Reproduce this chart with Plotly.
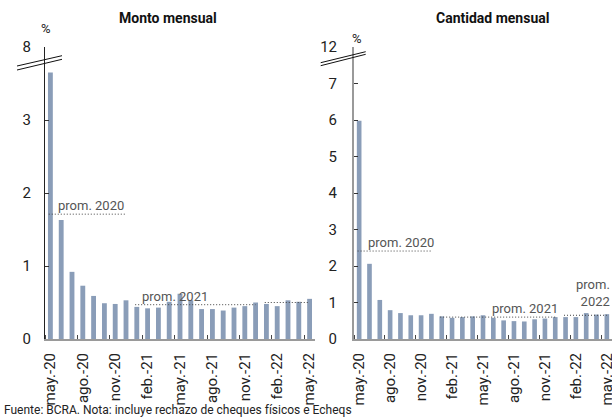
import plotly.graph_objects as go

# ---------------- data ----------------
months = ["may.-20", "jun.-20", "jul.-20", "ago.-20", "sep.-20", "oct.-20", "nov.-20", "dic.-20",
          "ene.-21", "feb.-21", "mar.-21", "abr.-21", "may.-21", "jun.-21", "jul.-21", "ago.-21",
          "sep.-21", "oct.-21", "nov.-21", "dic.-21", "ene.-22", "feb.-22", "mar.-22", "abr.-22",
          "may.-22"]

monto = [3.65, 1.63, 0.92, 0.73, 0.59, 0.49, 0.48, 0.53, 0.44, 0.42, 0.43, 0.51, 0.62,
         0.53, 0.41, 0.41, 0.39, 0.43, 0.45, 0.50, 0.48, 0.45, 0.53, 0.51, 0.55]

cantidad = [5.98, 2.06, 1.07, 0.79, 0.71, 0.65, 0.65, 0.69, 0.62, 0.58, 0.60, 0.62, 0.65,
            0.58, 0.51, 0.49, 0.48, 0.54, 0.56, 0.60, 0.60, 0.60, 0.71, 0.67, 0.68]

# yearly averages (value, first month index, last month index)
prom_years = ["2020", "2021", "2022"]
prom_monto = [1.71, 0.47, 0.50]
prom_cantidad = [2.41, 0.60, 0.65]
prom_first = [0, 8, 20]
prom_last = [7, 19, 24]

# y tick values / labels (broken axis: top tick stands for larger value)
monto_tickvals = [0, 1, 2, 3, 4]
monto_ticktext = ["0", "1", "2", "3", "8"]
cant_tickvals = [0, 1, 2, 3, 4, 5, 6, 7, 8]
cant_ticktext = ["0", "1", "2", "3", "4", "5", "6", "7", "12"]

# ---------------- figure ----------------
W, H = 612, 419
FONT = "Roboto"
BAR = "#8A9DB8"

idx = list(range(len(months)))
label_idx = idx[::3]

fig = go.Figure()
fig.add_trace(go.Bar(x=idx, y=monto, marker_color=BAR, marker_line_width=0,
                     xaxis="x", yaxis="y", showlegend=False))
fig.add_trace(go.Bar(x=idx, y=cantidad, marker_color=BAR, marker_line_width=0,
                     xaxis="x2", yaxis="y2", showlegend=False))

# average dotted lines
for vals, xa, ya in [(prom_monto, "x", "y"), (prom_cantidad, "x2", "y2")]:
    for v, a, b in zip(vals, prom_first, prom_last):
        fig.add_trace(go.Scatter(x=[a - 0.15, b], y=[v, v], mode="lines",
                                 line=dict(color="#444", width=1, dash="1px,2px"),
                                 xaxis=xa, yaxis=ya, showlegend=False, hoverinfo="skip"))

def xaxis_cfg(domain):
    return dict(domain=domain, range=[-0.5, 24.5], showgrid=False, zeroline=False,
                automargin=False, ticklabeloverflow="allow",
                showline=True, linecolor="#9a9a9a", linewidth=2,
                tickmode="array", tickvals=label_idx,
                ticktext=[months[i] for i in label_idx],
                tickangle=-90, ticks="", ticklabelstandoff=6,
                tickfont=dict(family=FONT, size=15, color="#222"),
                minor=dict(tickmode="array", tickvals=[i - 0.5 for i in label_idx],
                           ticks="inside", ticklen=4, tickcolor="#444", tickwidth=1))

def yaxis_cfg(anchor, rng, tv, tt, lc, lw, standoff):
    return dict(anchor=anchor, domain=[1 - 339 / H, 1 - 47 / H], range=rng,
                automargin=False,
                showgrid=False, zeroline=False, showline=True, linecolor=lc, linewidth=lw,
                tickmode="array", tickvals=tv, ticktext=tt, ticks="inside", ticklen=4,
                tickcolor="#333", tickwidth=1, ticklabelstandoff=standoff,
                tickfont=dict(family=FONT, size=15, color="#222"))

fig.update_layout(
    template="none",
    width=W, height=H, margin=dict(l=0, r=0, t=0, b=0, pad=0), autosize=False,
    paper_bgcolor="white", plot_bgcolor="white",
    bargap=0.55,
    xaxis=dict(xaxis_cfg([45 / W, 315 / W]), anchor="y"),
    yaxis=yaxis_cfg("x", [0, 4], monto_tickvals, monto_ticktext, "#222", 1, 10),
    xaxis2=dict(xaxis_cfg([354 / W, 1.0]), anchor="y2"),
    yaxis2=yaxis_cfg("x2", [0, 8], cant_tickvals, cant_ticktext, "#9a9a9a", 2, 12),
    font=dict(family=FONT, color="#222"),
)

def px(x, y):
    return x / W, 1 - y / H

ann = []
# subplot titles
for txt, x, y in [("Monto mensual", 168, 18), ("Cantidad mensual", 492, 18)]:
    X, Y = px(x, y)
    ann.append(dict(text="<b>" + txt + "</b>", x=X, y=Y, xref="paper", yref="paper",
                    xanchor="center", yanchor="middle", showarrow=False,
                    font=dict(family=FONT, size=14, color="#111")))
# % labels
for x, y in [(46, 28), (357, 38)]:
    X, Y = px(x, y)
    ann.append(dict(text="%", x=X, y=Y, xref="paper", yref="paper", xanchor="center",
                    yanchor="middle", showarrow=False, font=dict(family=FONT, size=13, color="#222")))
# footer
X, Y = px(2, 410)
ann.append(dict(text="Fuente: BCRA. Nota: incluye rechazo de cheques físicos e Echeqs",
                x=X, y=Y, xref="paper", yref="paper", xanchor="left", yanchor="middle",
                showarrow=False, font=dict(family=FONT, size=12, color="#222")))

# average labels
GRAY = "#555"
lab = [
    ("x", "y", "prom. " + prom_years[0], 0.6, prom_monto[0], "left", 0),
    ("x", "y", "prom. " + prom_years[1], 8.4, prom_monto[1], "left", 0),
    ("x", "y", "prom.<br>" + prom_years[2], 24.7, prom_monto[2], "right", 1),
    ("x2", "y2", "prom. " + prom_years[0], 0.8, prom_cantidad[0], "left", 0),
    ("x2", "y2", "prom. " + prom_years[1], 12.8, prom_cantidad[1], "left", 0),
    ("x2", "y2", "prom.<br>" + prom_years[2], 24.45, prom_cantidad[2], "right", 5),
]
for xr, yr, txt, x, y, anc, ys in lab:
    ann.append(dict(text=txt, x=x, y=y, xref=xr, yref=yr, xanchor=anc, yanchor="bottom",
                    align=anc, showarrow=False, yshift=ys, borderpad=0,
                    font=dict(family=FONT, size=13, color=GRAY)))
fig.update_layout(annotations=ann)

# axis-break marks
shapes = []
for (x0, y0, x1, y1) in [(17, 66, 62, 55.7), (17, 70, 62, 59.3),
                         (320.7, 62.7, 365.7, 51.7), (320.7, 65.7, 365.7, 54.3)]:
    a0, b0 = px(x0, y0)
    a1, b1 = px(x1, y1)
    shapes.append(dict(type="line", xref="paper", yref="paper", x0=a0, y0=b0, x1=a1, y1=b1,
                       line=dict(color="#111", width=1)))
fig.update_layout(shapes=shapes)

fig.write_html("out.html", config={"displayModeBar": False},
               post_script="document.body.style.margin='0px';document.body.style.overflow='hidden';")
